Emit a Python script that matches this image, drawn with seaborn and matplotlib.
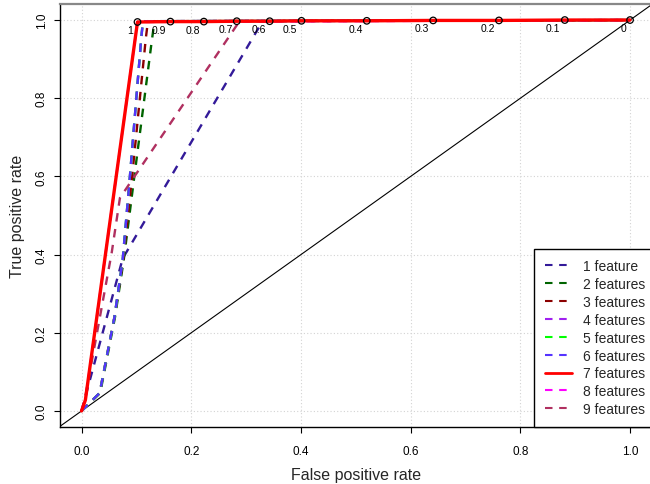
import matplotlib
matplotlib.use("Agg")
import matplotlib.pyplot as plt
import seaborn as sns
from matplotlib.lines import Line2D

# ---------------- data ----------------
series_labels = ["1 feature", "2 features", "3 features", "4 features", "5 features",
                 "6 features", "7 features", "8 features", "9 features"]
series_colors = ["#331a99", "#006400", "#8b0000", "#a020f0", "#00ff00",
                 "#5533ff", "#ff0000", "#ff00ff", "#b03060"]

f1_fpr = [0.0, 0.075, 0.33, 1.0]
f1_tpr = [0.0, 0.39, 0.997, 1.0]
f2_fpr = [0.0, 0.034, 0.061, 0.077, 0.096, 0.128, 0.133, 1.0]
f2_tpr = [0.0, 0.046, 0.24, 0.387, 0.597, 0.946, 0.997, 1.0]
f3_fpr = [0.0, 0.033, 0.060, 0.076, 0.092, 0.117, 0.121, 1.0]
f3_tpr = [0.0, 0.046, 0.24, 0.387, 0.597, 0.951, 0.997, 1.0]
f4_fpr = [0.0, 0.033, 0.060, 0.075, 0.088, 0.109, 0.112, 1.0]
f4_tpr = [0.0, 0.046, 0.24, 0.387, 0.597, 0.956, 0.997, 1.0]
f5_fpr = [0.0, 0.033, 0.060, 0.075, 0.088, 0.109, 0.112, 1.0]
f5_tpr = [0.0, 0.046, 0.24, 0.387, 0.597, 0.956, 0.997, 1.0]
f6_fpr = [0.0, 0.033, 0.060, 0.075, 0.088, 0.109, 0.112, 1.0]
f6_tpr = [0.0, 0.046, 0.24, 0.387, 0.597, 0.956, 0.997, 1.0]
f7_fpr = [0.0, 0.007, 0.102, 0.162, 0.223, 0.283, 0.343, 0.401, 0.520, 0.641, 0.761, 0.881, 1.0]
f7_tpr = [0.0, 0.028, 0.995, 0.996, 0.996, 0.997, 0.997, 0.998, 0.998, 0.999, 0.999, 1.0, 1.0]
f8_fpr = [0.0, 0.007, 0.102, 1.0]
f8_tpr = [0.0, 0.028, 0.995, 1.0]
f9_fpr = [0.0, 0.006, 0.055, 0.070, 0.288, 1.0]
f9_tpr = [0.0, 0.030, 0.405, 0.545, 0.997, 1.0]

cutoff_labels = ["1", "0.9", "0.8", "0.7", "0.6", "0.5", "0.4", "0.3", "0.2", "0.1", "0"]
cutoff_fpr = [0.102, 0.162, 0.223, 0.283, 0.343, 0.401, 0.520, 0.641, 0.761, 0.881, 1.0]
cutoff_tpr = [0.995, 0.996, 0.996, 0.997, 0.997, 0.998, 0.998, 0.999, 0.999, 1.0, 1.0]

tick_values = [0.0, 0.2, 0.4, 0.6, 0.8, 1.0]
tick_labels = ["0.0", "0.2", "0.4", "0.6", "0.8", "1.0"]

# ---------------- style ----------------
sns.set_style("white")
plt.rcParams['font.family'] = ['Liberation Sans', 'DejaVu Sans']

fig = plt.figure(figsize=(6.5, 4.85), dpi=100)
ax_w_px = 592.4
ax = fig.add_axes([59.6 / 650, 57.4 / 485, ax_w_px / 650, 422.2 / 485])
ax.set_xlim(-0.04, 1.04)
ax.set_ylim(-0.04, 1.04)

ax.set_xticks(tick_values)
ax.set_xticklabels(tick_labels)
ax.set_yticks(tick_values)
ax.set_yticklabels(tick_labels)
ax.grid(True, color="#d3d3d3", linestyle=(0, (1, 2)), linewidth=0.8)
ax.set_axisbelow(True)

# diagonal
ax.axline((0, 0), slope=1, color="black", linewidth=0.8, zorder=1.5)

dash = (0, (3.6, 3.2))
curves = {
    0: (f1_fpr, f1_tpr), 1: (f2_fpr, f2_tpr), 2: (f3_fpr, f3_tpr),
    3: (f4_fpr, f4_tpr), 4: (f5_fpr, f5_tpr), 5: (f6_fpr, f6_tpr),
    6: (f7_fpr, f7_tpr), 7: (f8_fpr, f8_tpr), 8: (f9_fpr, f9_tpr),
}
draw_order = [0, 1, 2, 3, 4, 5, 7, 8, 6]
for i in draw_order:
    fx, fy = curves[i]
    if i == 6:
        sns.lineplot(x=fx, y=fy, sort=False, estimator=None, color=series_colors[i],
                     linewidth=2.4, ax=ax, legend=False, zorder=3)
    else:
        sns.lineplot(x=fx, y=fy, sort=False, estimator=None, color=series_colors[i],
                     linewidth=1.7, linestyle=dash, ax=ax, legend=False, zorder=2.5)

sns.scatterplot(x=cutoff_fpr, y=cutoff_tpr, marker="o", s=22, facecolor="none",
                edgecolor="black", linewidth=0.9, ax=ax, legend=False, zorder=4)
for lab, cx, cy in zip(cutoff_labels, cutoff_fpr, cutoff_tpr):
    ax.annotate(lab, (cx, cy), xytext=(-3, -2.2), textcoords="offset points",
                ha="right", va="top", fontsize=7.5, color="black", zorder=5)

# axes cosmetics
for s in ["left", "bottom"]:
    ax.spines[s].set_color("black")
    ax.spines[s].set_linewidth(1.0)
ax.spines["top"].set_color("#888888")
ax.spines["top"].set_linewidth(1.6)
ax.spines["right"].set_visible(False)
ax.tick_params(axis="both", direction="out", length=4.3, width=0.8, labelsize=8.5,
               color="black", labelcolor="black", bottom=True, left=True)
ax.tick_params(axis="x", pad=8.8)
ax.tick_params(axis="y", pad=4.2)
plt.setp(ax.get_yticklabels(), rotation=90, va="center")

ax.set_xlabel("False positive rate", fontsize=11.5, labelpad=7.2)
ax.set_ylabel("True positive rate", fontsize=11.5, labelpad=7.5)

handles = []
for i in range(9):
    if i == 6:
        handles.append(Line2D([], [], color=series_colors[i], linewidth=2.0))
    else:
        handles.append(Line2D([], [], color=series_colors[i], linewidth=1.5, linestyle=dash))
leg = ax.legend(handles, series_labels, loc="lower right",
                bbox_to_anchor=(1 + 3.4 / ax_w_px, 0.0),
                frameon=True, fancybox=False,
                edgecolor="black", framealpha=1, borderaxespad=0, fontsize=10,
                handlelength=1.94, handletextpad=0.79, labelspacing=0.28, borderpad=0.75)
leg.get_frame().set_linewidth(1.0)
leg.set_zorder(10)

fig.savefig("out.png", dpi=100)
